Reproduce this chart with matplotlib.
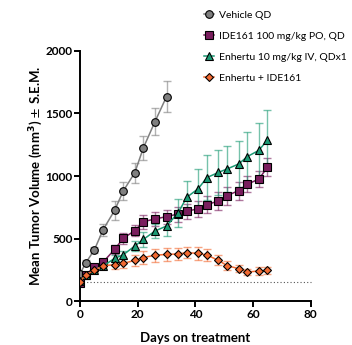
import matplotlib
matplotlib.use("Agg")
import matplotlib.pyplot as plt
from matplotlib.lines import Line2D

plt.rcParams['font.family'] = ['Lato', 'DejaVu Sans']

# Study days
days = [0, 2, 5, 8, 12, 15, 19, 22, 26, 30, 34, 37, 41, 44, 48, 51, 55, 58, 62, 65]
vehicle_days = days[:10]

# Mean tumor volume (mm^3) and S.E.M. per group
vehicle_mean = [218, 305, 410, 570, 725, 880, 1027, 1227, 1435, 1635]
vehicle_sem = [15, 20, 25, 50, 75, 75, 80, 95, 110, 125]

ide161_mean = [148, 207, 275, 311, 413, 502, 563, 635, 656, 675, 696, 717, 739, 771, 800, 843, 883, 933, 976, 1069]
ide161_sem = [5, 10, 15, 20, 35, 45, 45, 55, 55, 55, 60, 60, 65, 70, 70, 72, 72, 64, 67, 72]

enhertu_mean = [158, 205, 250, 280, 341, 370, 440, 493, 560, 600, 705, 829, 899, 987, 1029, 1056, 1096, 1155, 1205, 1288]
enhertu_sem = [5, 10, 15, 20, 30, 30, 40, 60, 55, 80, 115, 130, 160, 178, 180, 187, 187, 200, 220, 240]

combo_mean = [155, 210, 245, 283, 290, 301, 325, 348, 366, 373, 376, 387, 381, 368, 325, 283, 259, 232, 240, 245]
combo_sem = [5, 10, 15, 20, 35, 40, 45, 50, 50, 50, 50, 45, 50, 50, 40, 35, 30, 25, 30, 30]

baseline = 150

labels = ['Vehicle QD', 'IDE161 100 mg/kg PO, QD', 'Enhertu 10 mg/kg IV, QDx1', 'Enhertu + IDE161']
colors = ['#7f7f7f', '#7a1e5e', '#1b9a74', '#f26a32']
markers = ['o', 's', '^', 'D']
msizes = [5.5, 5.5, 6, 4.5]

series = [
    (vehicle_days, vehicle_mean, vehicle_sem),
    (days, ide161_mean, ide161_sem),
    (days, enhertu_mean, enhertu_sem),
    (days, combo_mean, combo_sem),
]

fig = plt.figure(figsize=(3.52, 3.45), dpi=100)
ax = fig.add_axes([0.2273, 0.1275, 0.6554, 0.7247])

ax.plot([0, 80], [baseline, baseline], ls=(0, (1, 2)), color='#555555', lw=0.8, clip_on=False, zorder=1)

for (x, m, s), c, mk, ms in zip(series, colors, markers, msizes):
    ax.errorbar(x, m, yerr=s, fmt='none', ecolor=c, elinewidth=1.0, capsize=3,
                capthick=1.0, alpha=0.6, zorder=2)
    ax.plot(x, m, color=c, lw=1.1, marker=mk, ms=ms, mfc=c, mec='black', mew=0.8, zorder=3)

ax.set_xlim(0, 80)
ax.set_ylim(0, 2000)
ax.set_xticks([0, 20, 40, 60, 80])
ax.set_yticks([0, 500, 1000, 1500, 2000])
for sp in ['top', 'right']:
    ax.spines[sp].set_visible(False)
for sp in ['left', 'bottom']:
    ax.spines[sp].set_linewidth(1.4)
ax.tick_params(width=1.4, length=4, labelsize=8.5, pad=1.5)
for t in ax.get_xticklabels() + ax.get_yticklabels():
    t.set_fontweight('bold')

ax.set_xlabel('Days on treatment', fontsize=9.5, fontweight='bold', labelpad=9)
ax.set_ylabel(r'Mean Tumor Volume (mm$^{\mathbf{3}}$) $\pm$ S.E.M.', fontsize=9.5,
              fontweight='bold', labelpad=0)

handles = [Line2D([], [], color=c, lw=1.1, marker=mk, ms=ms, mfc=c, mec='black', mew=0.8)
           for c, mk, ms in zip(colors, markers, msizes)]
fig.legend(handles, labels, loc='upper left', bbox_to_anchor=(0.567, 0.982), frameon=False,
           fontsize=7.5, handlelength=1.0, handletextpad=0.5, labelspacing=1.12, borderaxespad=0)

fig.savefig('out.png', dpi=100)
